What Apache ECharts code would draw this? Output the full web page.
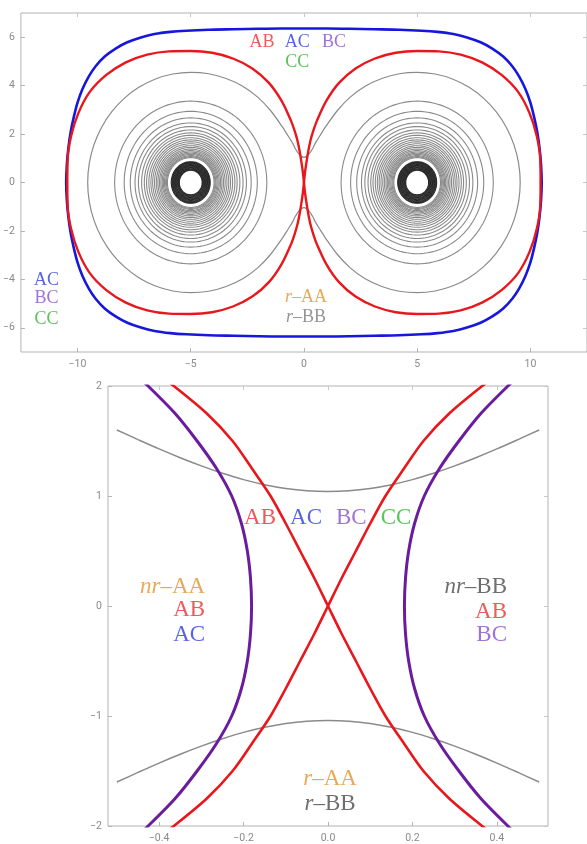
<!DOCTYPE html>
<html>
<head>
<meta charset="utf-8">
<script src="https://cdn.jsdelivr.net/npm/echarts@6/dist/echarts.min.js"></script>
<style>
  html, body { margin: 0; padding: 0; background: #ffffff; }
  #chart { width: 587px; height: 844px; }
</style>
</head>
<body>
<div id="chart"></div>
<script>
// ---------- upper panel: the whole plane ----------
const ringCenters = [[-5, 0], [5, 0]];
// closed level curves around each centre (radius)
const grayRingRadii = [3.36, 2.94, 2.67, 2.46, 2.31, 2.17, 2.05, 1.95, 1.85, 1.76, 1.68, 1.60,
  1.52, 1.45, 1.38, 1.32, 1.26, 1.21, 1.16, 1.11, 1.07, 1.03];
const coreRingRadii = [0.86, 0.83, 0.80, 0.77, 0.74, 0.71, 0.68, 0.65, 0.62,
  0.59, 0.56, 0.53, 0.505];
// outer gray curve enclosing both centres, quadrant x<=0, y>=0 (from the waist to the left end)
const peanutQuarter = [[0, 1.04], [-0.1, 1.068], [-0.2, 1.149], [-0.3, 1.274], [-0.4, 1.428],
  [-0.508, 1.635], [-0.74, 1.986], [-0.973, 2.325], [-1.469, 2.963], [-2.043, 3.524],
  [-2.705, 3.975], [-3.437, 4.294], [-4.208, 4.491], [-5.0, 4.55], [-5.79, 4.481],
  [-6.556, 4.276], [-7.275, 3.94], [-7.925, 3.486], [-8.486, 2.925], [-8.94, 2.275],
  [-9.276, 1.556], [-9.481, 0.79], [-9.55, 0]];
// figure-eight (red), left lobe upper half, from the crossing to the far end
const lobeQuarter = [[0, 0], [-0.049, 0.433], [-0.115, 0.861], [-0.19, 1.289],
  [-0.283, 1.717], [-0.414, 2.138], [-0.575, 2.555], [-0.986, 3.368], [-1.548, 4.114],
  [-2.28, 4.711], [-3.136, 5.121], [-4.055, 5.357], [-5.0, 5.43], [-5.955, 5.416],
  [-6.922, 5.281], [-7.865, 4.962], [-8.728, 4.443], [-9.458, 3.741], [-9.962, 2.865],
  [-10.281, 1.922], [-10.436, 0.959], [-10.45, 0]];
// outer oval (blue), quadrant x<=0, y>=0
const ovalQuarter = [[0, 6.36], [-1.0, 6.36], [-2.0, 6.35], [-3.1, 6.33], [-4.2, 6.31],
  [-5.2, 6.27], [-5.9, 6.22], [-6.6, 6.13], [-7.2, 5.99], [-7.8, 5.79], [-8.3, 5.54],
  [-8.8, 5.2], [-9.2, 4.8], [-9.5, 4.38], [-9.78, 3.86], [-10.0, 3.3], [-10.16, 2.72],
  [-10.3, 2.1], [-10.4, 1.45], [-10.47, 0.75], [-10.5, 0]];

const topXTicks = [-10, -5, 0, 5, 10];
const topYTicks = [-6, -4, -2, 0, 2, 4, 6];

// ---------- lower panel: close-up of the crossing ----------
// red branch through the origin, upper-left half
const zoomRedHalf = [[0, 0], [-0.032, 0.25], [-0.066, 0.5], [-0.1, 0.75], [-0.136, 1.0],
  [-0.18, 1.25], [-0.226, 1.5], [-0.287, 1.75], [-0.365, 2.0], [-0.4, 2.1]];
// purple curve, quadrant x<0, y>=0
const zoomPurpleQuarter = [[-0.181, 0], [-0.1835, 0.25], [-0.191, 0.5], [-0.205, 0.75],
  [-0.228, 1.0], [-0.264, 1.25], [-0.31, 1.5], [-0.362, 1.75], [-0.426, 2.0], [-0.455, 2.1]];
// gray curve, upper one, left half
const zoomGrayHalf = [[-0.5, 1.6], [-0.45, 1.513], [-0.4, 1.428], [-0.35, 1.348],
  [-0.3, 1.274], [-0.25, 1.207], [-0.2, 1.149], [-0.15, 1.103], [-0.1, 1.068],
  [-0.05, 1.047], [0, 1.04]];

const bottomXTicks = [-0.4, -0.2, 0, 0.2, 0.4];
const bottomYTicks = [-2, -1, 0, 1, 2];

// text annotations: [x, y, text, colour key, align]
const topNotes = [
  [-1.85, 5.79, 'AB', 'AB', 'center'],
  [-0.30, 5.79, 'AC', 'AC', 'center'],
  [1.33, 5.79, 'BC', 'BC', 'center'],
  [-0.30, 4.98, 'CC', 'CC', 'center'],
  [-11.37, -4.02, 'AC', 'AC', 'center'],
  [-11.37, -4.80, 'BC', 'BC', 'center'],
  [-11.37, -5.63, 'CC', 'CC', 'center'],
  [0.09, -4.72, '{it|r}–AA', 'AA', 'center'],
  [0.09, -5.55, '{it|r}–BB', 'BBlight', 'center']
];
const bottomNotes = [
  [-0.161, 0.80, 'AB', 'AB', 'center'],
  [-0.052, 0.80, 'AC', 'AC', 'center'],
  [0.055, 0.80, 'BC', 'BC', 'center'],
  [0.161, 0.80, 'CC', 'CC', 'center'],
  [-0.291, 0.177, '{it|nr}–AA', 'AA', 'right'],
  [-0.291, -0.04, 'AB', 'AB', 'right'],
  [-0.291, -0.26, 'AC', 'AC', 'right'],
  [0.424, 0.177, '{it|nr}–BB', 'BB', 'right'],
  [0.424, -0.05, 'AB', 'AB', 'right'],
  [0.424, -0.26, 'BC', 'BC', 'right'],
  [0.005, -1.574, '{it|r}–AA', 'AA', 'center'],
  [0.005, -1.80, '{it|r}–BB', 'BB', 'center']
];

// ---------- styling ----------
const noteColors = {
  AB: '#e8312f', AC: '#2b3ddb', BC: '#8a4fcf', CC: '#2fb52f',
  AA: '#e3932c', BB: '#4a4a4a', BBlight: '#7a7a7a'
};
const RED = '#e8171c', BLUE = '#1717dc', PURPLE = '#6a1c9c', GRAY = '#8a8a8a';
const serif = '"Liberation Serif", "DejaVu Serif", serif';

// ---------- helpers that assemble curves from the point lists ----------
function closedFromQuarter(q) {
  const a = q;
  const b = q.slice().reverse().map(([x, y]) => [x, -y]);
  const c = q.map(([x, y]) => [-x, -y]);
  const d = q.slice().reverse().map(([x, y]) => [-x, y]);
  return a.concat(b.slice(1), c.slice(1), d.slice(1));
}
function lobe(q, sx) {
  const up = q.map(([x, y]) => [sx * x, y]);
  const down = q.slice().reverse().map(([x, y]) => [sx * x, -y]);
  return up.concat(down.slice(1));
}
function pointSymmetric(h, sx) {
  const upper = h.map(([x, y]) => [sx * x, y]).reverse();
  const lower = h.slice(1).map(([x, y]) => [-sx * x, -y]);
  return upper.concat(lower);
}
function mirrorY(q) {
  const upper = q.slice().reverse();
  const lower = q.map(([x, y]) => [x, -y]);
  return upper.concat(lower.slice(1));
}
function mirrorX(h) {
  return h.concat(h.slice(0, -1).reverse().map(([x, y]) => [-x, y]));
}
const minusFmt = (v, digits) => {
  const s = digits ? Math.abs(v).toFixed(digits) : String(Math.abs(v));
  return (v < 0 ? '−' : '') + s;
};

function ringData(radii) {
  const out = [];
  ringCenters.forEach(([cx, cy]) => radii.forEach(r => out.push([cx, cy, r])));
  return out;
}
function ringSeries(radii, color, width, xi, yi) {
  return {
    type: 'custom', xAxisIndex: xi, yAxisIndex: yi, clip: true, silent: true,
    data: ringData(radii),
    encode: { x: 0, y: 1 },
    renderItem(params, api) {
      const cx = api.value(0), cy = api.value(1), r = api.value(2);
      const pts = [];
      for (let k = 0; k <= 120; k++) {
        const t = (k / 120) * Math.PI * 2;
        pts.push(api.coord([cx + r * Math.cos(t), cy + r * Math.sin(t)]));
      }
      return { type: 'polyline', shape: { points: pts },
        style: { stroke: color, fill: null, lineWidth: width } };
    }
  };
}
function curve(data, color, width, xi, yi, z, smooth) {
  return {
    type: 'line', xAxisIndex: xi, yAxisIndex: yi, data: data, showSymbol: false,
    smooth: smooth === undefined ? 0.3 : smooth, silent: true, z: z || 2, clip: true,
    lineStyle: { color: color, width: width }
  };
}
function noteSeries(notes, size, xi, yi) {
  return {
    type: 'scatter', xAxisIndex: xi, yAxisIndex: yi, symbolSize: 0, silent: true, z: 10,
    data: notes.map(([x, y, text, key, align]) => ({
      value: [x, y],
      label: {
        show: true, position: 'inside', formatter: text, align: align,
        verticalAlign: 'middle', color: noteColors[key], fontFamily: serif,
        fontSize: size,
        rich: { it: { fontStyle: 'italic', color: noteColors[key], fontFamily: serif, fontSize: size } }
      }
    }))
  };
}

function axisPair(min, max, ticks, digits, gridIndex, isX) {
  const labelCommon = { color: '#8a8a8a', fontSize: 10.5, fontFamily: 'Roboto, "Open Sans", sans-serif' };
  const main = {
    type: 'value', gridIndex: gridIndex, min: min, max: max,
    position: isX ? 'bottom' : 'left',
    axisLine: { show: false, onZero: false }, splitLine: { show: false },
    axisTick: { show: true, inside: true, length: 4, customValues: ticks,
      lineStyle: { color: '#b5b5b5' } },
    axisLabel: { show: true, customValues: ticks, margin: isX ? 7 : 6,
      formatter: v => minusFmt(v, digits), ...labelCommon }
  };
  const other = {
    type: 'value', gridIndex: gridIndex, min: min, max: max,
    position: isX ? 'top' : 'right',
    axisLine: { show: false, onZero: false }, splitLine: { show: false },
    axisTick: { show: true, inside: true, length: 4, customValues: ticks,
      lineStyle: { color: '#c8c8c8' } },
    axisLabel: { show: false }
  };
  return [main, other];
}

const chart = echarts.init(document.getElementById('chart'), null, { renderer: 'canvas' });

const [tx0, tx1] = axisPair(-12.5, 12.5, topXTicks, 0, 0, true);
const [ty0, ty1] = axisPair(-7, 7, topYTicks, 0, 0, false);
const [bx0, bx1] = axisPair(-0.521, 0.521, bottomXTicks, 1, 1, true);
const [by0, by1] = axisPair(-2, 2, bottomYTicks, 0, 1, false);

chart.setOption({
  animation: false,
  backgroundColor: '#ffffff',
  grid: [
    { left: 15, top: 13, width: 580, height: 339, show: true, borderColor: '#b3b3b3', borderWidth: 1, backgroundColor: 'transparent' },
    { left: 108, top: 386, width: 440, height: 441, show: true, borderColor: '#b3b3b3', borderWidth: 1, backgroundColor: 'transparent' }
  ],
  xAxis: [tx0, tx1, bx0, bx1],
  yAxis: [ty0, ty1, by0, by1],
  series: [
    // upper panel
    ringSeries(grayRingRadii, GRAY, 1.1, 0, 0),
    ringSeries(coreRingRadii, '#262626', 1.1, 0, 0),
    curve(closedFromQuarter(peanutQuarter), GRAY, 1.2, 0, 0, 2),
    curve(closedFromQuarter(ovalQuarter), BLUE, 2.6, 0, 0, 3),
    curve(lobe(lobeQuarter, 1), RED, 2.4, 0, 0, 4),
    curve(lobe(lobeQuarter, -1), RED, 2.4, 0, 0, 4),
    noteSeries(topNotes, 18, 0, 0),
    // lower panel
    curve(mirrorX(zoomGrayHalf), GRAY, 1.5, 2, 2, 2),
    curve(mirrorX(zoomGrayHalf.map(([x, y]) => [x, -y])), GRAY, 1.5, 2, 2, 2),
    curve(pointSymmetric(zoomRedHalf, 1), RED, 2.6, 2, 2, 3),
    curve(pointSymmetric(zoomRedHalf, -1), RED, 2.6, 2, 2, 3),
    curve(mirrorY(zoomPurpleQuarter), PURPLE, 3, 2, 2, 3),
    curve(mirrorY(zoomPurpleQuarter.map(([x, y]) => [-x, y])), PURPLE, 3, 2, 2, 3),
    noteSeries(bottomNotes, 23, 2, 2)
  ]
});
</script>
</body>
</html>
